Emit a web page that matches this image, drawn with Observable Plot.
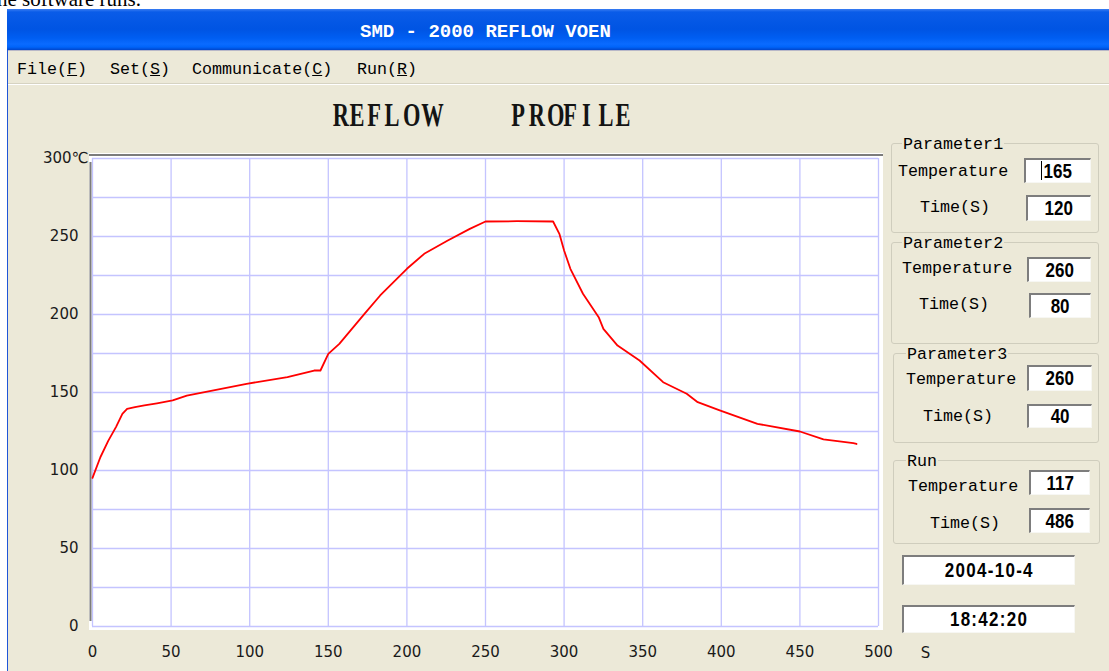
<!DOCTYPE html>
<html><head><meta charset="utf-8">
<script src="https://cdn.jsdelivr.net/npm/d3@7"></script>
<script src="https://cdn.jsdelivr.net/npm/@observablehq/plot@0.6"></script>
<style>
body{margin:0;width:1109px;height:671px;overflow:hidden;background:#fff;position:relative;font-family:"Liberation Mono",monospace;color:#111}
.a{position:absolute;white-space:nowrap}
.c{display:inline-block;text-align:center}
.c>span{display:inline-block}
#doc{left:-3px;top:-11px;font:21px/21px "Liberation Serif",serif;color:#000}
#win{left:7px;top:9px;width:1110px;height:670px;background:#ECE9D8;border-left:1px solid #1f56d8}
#tbar{left:7px;top:9px;width:1110px;height:41px;background:linear-gradient(to bottom,#3a7df2 0px,#0a5ce8 3px,#0054e3 20px,#005ef2 29px,#0a6bff 35px,#0064fa 38px,#0046cc 41px)}
#ttl{left:360px;top:23px;font:bold 19px/19px "Liberation Mono",monospace;color:#fff}
#tline{left:8px;top:50px;width:1110px;height:1px;background:#b8b8c8}
.menu{top:60px;font:16.7px/20px "Liberation Mono",monospace;color:#000}
#msep1{left:8px;top:83px;width:1110px;height:1px;background:#d6d3c2}
#msep2{left:8px;top:84px;width:1110px;height:1px;background:#fff}
.big{font:bold 33px/33px "Liberation Serif",serif;color:#141414}
.grp{border:1px solid #cfcdbd;border-radius:3px}
.glab{font:16.7px/20px "Liberation Mono",monospace;background:#ECE9D8;padding:0 1px;color:#000}
.lab{font:16.7px/20px "Liberation Mono",monospace;color:#000}
.box{background:#fff;border-top:2px solid #7d7d7d;border-left:2px solid #7d7d7d;border-right:1px solid #f7f7f3;border-bottom:1px solid #f7f7f3;box-sizing:border-box;display:flex;align-items:center;justify-content:center;font:bold 20px "Liberation Sans",sans-serif;color:#000}
.box>span{display:inline-block;transform:scaleX(0.85)}
#chart{position:absolute;left:0;top:130px}
</style></head><body>
<div class="a" id="doc">he software runs.</div>
<div class="a" id="win"></div>
<div class="a" id="tbar"></div>
<div class="a" id="ttl"></div>
<div class="a" id="tline"></div>
<div class="a" id="msep1"></div><div class="a" id="msep2"></div>
<div id="menus"></div>
<div class="a big" id="big1" style="left:329px;top:99.4px"></div>
<div class="a big" id="big2" style="left:508px;top:99.4px"></div>
<div id="panel"></div>
<div id="chart"></div>
<script>
// ---- data ----
const times = [0,5,10,15,19,22,27,33,41,51,60,77,98,124,141,145,150,157,173,183,200,211,226,240,250,270,293,297,300,304,312,322,325,334,348,363,378,385,399,423,450,465,484,486];
const temps = [95.3,108.5,119,128,136.3,139.5,140.6,141.7,143.1,144.9,148,151.3,155.6,159.8,164.1,164.1,174.8,181.2,200.4,212.2,229.3,238.9,247.4,254.9,259.6,259.8,259.6,251.7,241,229.3,213.3,198.3,190.8,180.1,170.5,156.6,149.2,143.8,138.5,129.9,125,119.9,117.5,117];
const xTicks = [0,50,100,150,200,250,300,350,400,450,500];
const yLabelTicks = [0,50,100,150,200,250];
const yTopTick = [300];
const yGrid = [0,25,50,75,100,125,150,175,200,225,250,275,300];
const xUnit = ["S"];
const windowTitle = "SMD - 2000 REFLOW VOEN";
const chartTitle = ["REFLOW", "PROFILE"];
const menuItems = ["File","Set","Communicate","Run"];
const menuKeys = ["F","S","C","R"];
const groupNames = ["Parameter1","Parameter2","Parameter3","Run"];
const rowLabels = ["Temperature","Time(S)"];
const groupTemps = ["165","260","260","117"];
const groupTimes = ["120","80","40","486"];
const dateText = "2004-10-4";
const clockText = "18:42:20";

// ---- layout (positions only) ----
const menuX = [17,110,192,357];
const groups = [
  {l:891,t:143,r:1097,b:231, gx:903, tx:898, tcy:170, ty:[158,183], ix:[1024,1091], mx:920, mcy:206, my:[195,221], jx:[1026,1091]},
  {l:891,t:242,r:1097,b:342, gx:903, tx:902, tcy:267, ty:[257,282], ix:[1027,1091], mx:919, mcy:303, my:[293,318], jx:[1029,1091]},
  {l:893,t:353,r:1097,b:441, gx:907, tx:906, tcy:378, ty:[365,391], ix:[1027,1092], mx:923, mcy:415, my:[404,428], jx:[1027,1092]},
  {l:893,t:460,r:1098,b:542, gx:907, tx:908, tcy:485, ty:[470,495], ix:[1029,1090], mx:930, mcy:522, my:[508,533], jx:[1029,1090]}
];

// fixed-pitch cells for the big serif title
function cells(str, cw, sx) {
  return [...str].map(ch => `<span class="c" style="width:${cw}px"><span style="transform:scaleX(${sx})">${ch === " " ? "&nbsp;" : ch}</span></span>`).join("");
}
document.getElementById("ttl").textContent = windowTitle;
document.getElementById("big1").innerHTML = cells(chartTitle[0], 17.4, 0.68);
document.getElementById("big2").innerHTML = cells(chartTitle[1], 17.4, 0.68);

const menus = document.getElementById("menus");
menuItems.forEach((m,i)=>{
  const d = document.createElement("div");
  d.className = "a menu"; d.style.left = menuX[i]+"px";
  d.innerHTML = m + "(<u>" + menuKeys[i] + "</u>)";
  menus.appendChild(d);
});

const panel = document.getElementById("panel");
function el(cls, css, html){const d=document.createElement("div");d.className="a "+cls;Object.assign(d.style,css);if(html!=null)d.innerHTML=html;panel.appendChild(d);return d;}
groups.forEach((g,i)=>{
  el("grp",{left:g.l+"px",top:g.t+"px",width:(g.r-g.l)+"px",height:(g.b-g.t)+"px"});
  el("glab",{left:(g.gx-1)+"px",top:(g.t-8.5)+"px"},groupNames[i]);
  el("lab",{left:g.tx+"px",top:(g.tcy-8.5)+"px"},rowLabels[0]);
  el("box",{left:g.ix[0]+"px",top:g.ty[0]+"px",width:(g.ix[1]-g.ix[0])+"px",height:(g.ty[1]-g.ty[0])+"px"},"<span>"+groupTemps[i]+"</span>");
  el("lab",{left:g.mx+"px",top:(g.mcy-8.5)+"px"},rowLabels[1]);
  el("box",{left:g.jx[0]+"px",top:g.my[0]+"px",width:(g.jx[1]-g.jx[0])+"px",height:(g.my[1]-g.my[0])+"px"},"<span>"+groupTimes[i]+"</span>");
});
el("", {left:"1041px",top:"161px",width:"1px",height:"19px",background:"#000"});
el("box",{left:"902px",top:"555px",width:"173px",height:"30px"},"<span style='letter-spacing:1.5px'>"+dateText+"</span>");
el("box",{left:"902px",top:"605px",width:"173px",height:"28px"},"<span style='letter-spacing:1.5px'>"+clockText+"</span>");

// ---- chart ----
const data = times.map((t,i)=>({t, v: temps[i]}));
const chart = Plot.plot({
  width: 940, height: 536,
  marginLeft: 92, marginRight: 62, marginTop: 28, marginBottom: 40,
  x: {domain: [0,500]},
  y: {domain: [0,300]},
  style: {background: "transparent", overflow: "visible", fontFamily: "'DejaVu Sans', sans-serif", fontSize: "15px", color: "#1a1a1a"},
  marks: [
    Plot.rect([0], {x1: () => 0, x2: () => 500, y1: () => 0, y2: () => 300, insetLeft: -3, insetRight: -5, insetTop: -5, insetBottom: -4, fill: "#ffffff"}),
    Plot.ruleX(xTicks, {stroke: "#c4c4ff", strokeWidth: 1.3}),
    Plot.ruleY(yGrid, {stroke: "#c4c4ff", strokeWidth: 1.3}),
    Plot.ruleX([0], {y1: () => 0, y2: () => 300, insetTop: -5, insetBottom: -4, dx: -2, stroke: "#7c7c7c", strokeWidth: 2}),
    Plot.ruleY([300], {x1: () => 0, x2: () => 500, insetLeft: -3, insetRight: -5, dy: -3.5, stroke: "#7c7c7c", strokeWidth: 2}),
    Plot.line(data, {x: "t", y: "v", stroke: "#ff0000", strokeWidth: 1.8}),
    Plot.axisX({ticks: xTicks, tickSize: 0, tickPadding: 20, label: null, fontSize: 15}),
    Plot.axisY({ticks: yLabelTicks, tickSize: 0, tickPadding: 14, label: null, fontSize: 15}),
    Plot.axisY({ticks: yTopTick, tickSize: 0, tickPadding: 4, label: null, fontSize: 15, tickFormat: d => d + "℃"}),
    Plot.text(xUnit, {text: d => d, frameAnchor: "bottom-right", dx: 47, dy: 27, textAnchor: "middle", lineAnchor: "middle", fontSize: 15})
  ]
});
document.getElementById("chart").appendChild(chart);
</script>
</body></html>
